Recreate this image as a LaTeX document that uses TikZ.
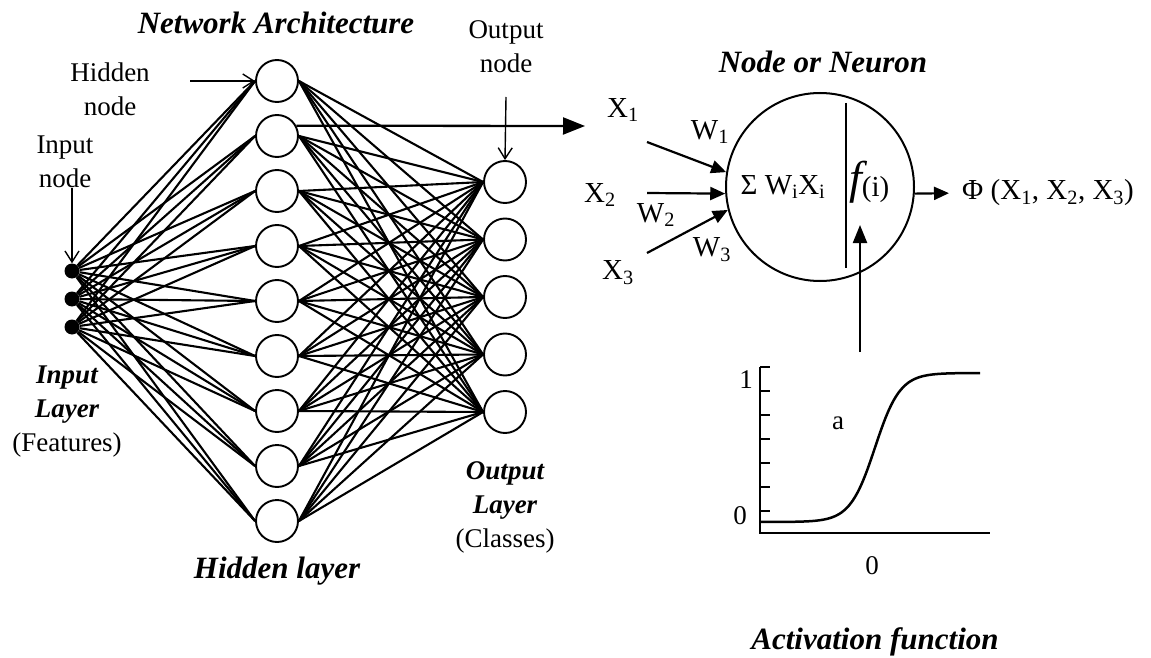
\documentclass[tikz,border=0pt]{standalone}
\usepackage{fontspec}
\setmainfont{Liberation Serif}
\usetikzlibrary{arrows.meta}

\begin{document}
\begin{tikzpicture}[x=1pt,y=-1pt,
  unit/.style={circle,draw,line width=1.9pt,minimum size=42pt,inner sep=0pt},
  dot/.style={circle,fill,minimum size=15pt,inner sep=0pt},
  link/.style={line width=2.1pt},
  pointer/.style={line width=1.4pt,-{Straight Barb[length=11pt,width=14pt]}},
  feed/.style={line width=2.2pt,-{Triangle[length=15pt,width=13pt]}},
  title/.style={font=\fontsize{31}{34}\selectfont\bfseries\itshape},
  lbl/.style={font=\fontsize{27}{34}\selectfont,align=center,inner sep=0pt},
  sym/.style={font=\fontsize{29}{32}\selectfont,inner sep=0pt},
]
\useasboundingbox (0,0) rectangle (1151,658);
\fill[white] (0,0) rectangle (1151,658);

% ---------------- network architecture ----------------
\foreach \i in {1,2,3}
  \node[dot] (in\i) at (72,{271+28*(\i-1)}) {};
\foreach \i in {1,...,9}
  \node[unit] (h\i) at (277,{81+55*(\i-1)}) {};
\foreach \i in {1,...,5}
  \node[unit] (o\i) at (505,{182+57.5*(\i-1)}) {};

\foreach \i in {1,2,3}
  \foreach \j in {1,...,9}
    \draw[link] (in\i) -- (h\j.west);
\foreach \i in {1,...,9}
  \foreach \j in {1,...,5}
    \draw[link] (h\i.east) -- (o\j.west);

\node[title] (archtitle) at (276,23) {Network Architecture};
\node[title] (hidtitle) at (277,571) {Hidden layer};

\node[lbl] (hidlbl) at (110,89) {Hidden\\node};
\coordinate (hidfrom) at (190,81);
\draw[pointer] (hidfrom) -- (h1.west);

\node[lbl] (inlbl) at (65,162) {Input\\node};
\coordinate (infrom) at (72,188);
\draw[pointer] (infrom) -- (in1.north);

\node[lbl] (outlbl) at (506,47) {Output\\node};
\coordinate (outfrom) at (506,97);
\draw[pointer] (outfrom) -- (o1.north);

\node[lbl] (inlayer) at (67,412)
  {{\bfseries\itshape Input}\\{\bfseries\itshape Layer}\\(Features)};
\node[lbl] (outlayer) at (505,507)
  {{\bfseries\itshape Output}\\{\bfseries\itshape Layer}\\(Classes)};

% hand-over to the single neuron
\coordinate (bigtip) at (585,126);
\draw[line width=2.3pt,-{Triangle[length=22pt,width=17pt]}] (h2.28) -- (bigtip);

% ---------------- node or neuron ----------------
\node[title] (celltitle) at (823,62) {Node or Neuron};
\node[circle,draw,line width=2pt,minimum size=188pt,inner sep=0pt] (cell) at (820,187) {};
\coordinate (sepTop) at (846,103);
\coordinate (sepBot) at (846,268);
\draw[line width=1.8pt] (sepTop) -- (sepBot);

\node[sym] (sum) at (783,187) {Σ W\textsubscript{i}X\textsubscript{i}};
\node[sym,anchor=west] (fun) at (849,182)
  {{\fontsize{46}{46}\selectfont\itshape f}\raisebox{-3pt}{(i)}};

\node[sym] (x1) at (623,110) {X\textsubscript{1}};
\node[sym] (x2) at (600,195) {X\textsubscript{2}};
\node[sym] (x3) at (618,273) {X\textsubscript{3}};
\node[sym] (w1) at (710,132) {W\textsubscript{1}};
\node[sym] (w2) at (656,215) {W\textsubscript{2}};
\node[sym] (w3) at (712,250) {W\textsubscript{3}};

\coordinate (x1s) at (647,142);
\coordinate (x2s) at (647,193);
\coordinate (x3s) at (647,253);
\draw[feed] (x1s) -- (cell.171);
\draw[feed] (x2s) -- (cell.184);
\draw[feed] (x3s) -- (cell.194);

\node[sym,anchor=west] (phi) at (962,193)
  {Φ (X\textsubscript{1}, X\textsubscript{2}, X\textsubscript{3})};
\draw[feed,shorten >=13pt] (cell.-4) -- (phi.west);

\coordinate (actfrom) at (860,352);
\coordinate (actto) at (860,225);
\draw[line width=2.2pt,-{Triangle[length=18pt,width=14pt]}] (actfrom) -- (actto);

% ---------------- activation function ----------------
\coordinate (ytop) at (760,367);
\coordinate (origin) at (760,533);
\coordinate (xend) at (990,533);
\draw[line width=1.7pt] (ytop) -- (origin) -- (xend);
\foreach \t in {367,391,415,439,463,487,511}
  \draw[line width=1.3pt] (760,\t) -- (770,\t);
\draw[line width=2.5pt] plot[domain=760:980,samples=90,smooth]
  (\x,{522-149/(1+exp(-(\x-875)/12.5))});

\node[lbl] (yone) at (746,380) {1};
\node[lbl] (yzero) at (740,516) {0};
\node[lbl] (albl) at (838,423) {a};
\node[lbl] (xzero) at (872,566) {0};
\node[title] (acttitle) at (875,642) {Activation function};
\end{tikzpicture}
\end{document}
